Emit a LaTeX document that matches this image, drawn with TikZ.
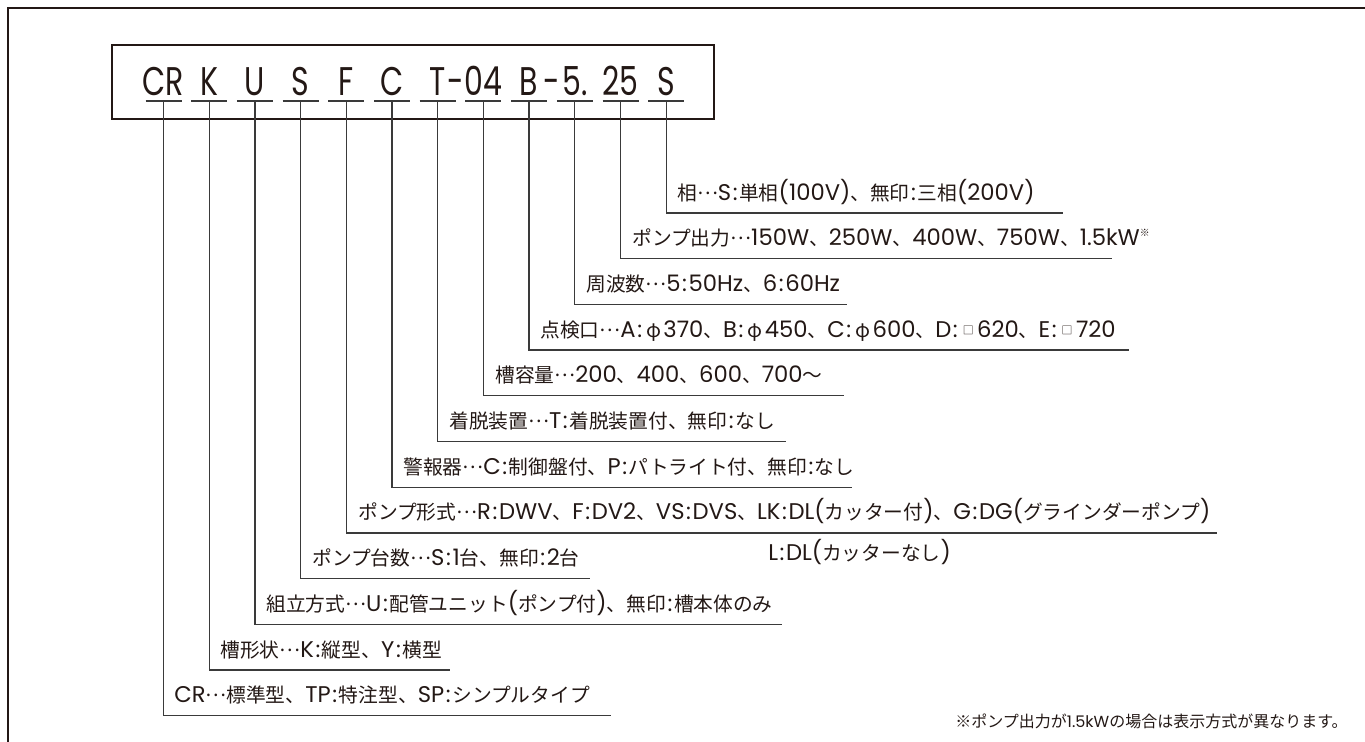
\documentclass[tikz,border=0pt]{standalone}
\usepackage{fontspec}
\usepackage{graphicx}
\usetikzlibrary{calc}
\setmainfont{Noto Sans CJK JP}
\newfontfamily\codefont{Poppins}[FakeStretch=0.75]
\newfontfamily\latinfont{Poppins}[Scale=1.15]
\newfontfamily\notefont{Poppins}
\definecolor{ink}{HTML}{231815}
\definecolor{rule}{HTML}{3A3A3A}
\newcommand{\lA}[1]{{\latinfont #1}}
\newcommand{\lN}[1]{{\latinfont #1}}
\newcommand{\cl}{{\latinfont\kern1.2pt:\kern1.2pt}}
\newcommand{\tdots}{\raisebox{0.3em}{…}}
\newcommand{\phii}{\kern0.12em φ\kern0.12em}
\newcommand{\smsq}{\makebox[0.9em]{\raisebox{0.12em}{\scalebox{0.55}{□}}}}
\newcommand{\kome}{\raisebox{0.45em}{\scalebox{0.5}{※}}}
\begin{document}
\begin{tikzpicture}[x=0.75pt,y=-0.75pt,
  frameline/.style={draw=ink,line width=2pt},
  codebox/.style={draw=ink,line width=2.2pt,minimum width=451.5pt,minimum height=55.5pt,inner sep=0pt},
  codetxt/.style={anchor=base,inner sep=0pt,text=ink,font=\codefont\fontsize{30}{30}\selectfont},
  uline/.style={draw=rule,line width=1pt},
  conn/.style={draw=rule,line width=0.95pt},
  lbl/.style={anchor=base west,inner sep=0pt,text=ink,font=\fontsize{14.8}{17}\selectfont},
  note/.style={anchor=base east,inner sep=0pt,text=ink,font=\fontsize{12}{14}\selectfont}]
\useasboundingbox (0,0) rectangle (1365,742);
% outer frame (open at right and bottom)
\draw[frameline] (8,745) -- (8,8) -- (1368,8);
% code box
\node[codebox] (box) at (413,82) {};
% code tokens
\foreach \i/\t in {1/CR,2/K,3/U,4/S,5/F,6/C,7/T\rlap{\kern1pt-},8/04,9/B\rlap{\kern4pt-},10/5.,11/25,12/S}{
  \pgfmathsetmacro{\xx}{163.5+45.7*(\i-1)}
  \node[codetxt] (c\i) at (\xx,96) {\t};
  \coordinate (u\i) at (\xx,101);
  \draw[uline] ($(u\i)+(-18,0)$) -- ($(u\i)+(18,0)$);
}
% connector ends
\foreach \i/\e in {1/611,2/450,3/782,4/590,5/1217,6/852,7/786,8/844,9/1129,10/847,11/1112,12/1063}{
  \pgfmathsetmacro{\yy}{213+45.7*(12-\i)}
  \coordinate (e\i) at (\e,\yy);
  \draw[conn] (u\i) |- (e\i);
}
% labels
\node[lbl] (l12) at (677,200) {相\tdots\lA{S}\cl 単相\lN{(100}\lA{V)}、無印\cl 三相\lN{(200}\lA{V)}};
\node[lbl] (l11) at (632,245.7) {ポンプ出力\tdots\lN{150}\lA{W}、\lN{250}\lA{W}、\lN{400}\lA{W}、\lN{750}\lA{W}、\lN{1.5}\lA{kW}\kome};
\node[lbl] (l10) at (586,291.4) {周波数\tdots\lN{5}\cl\lN{50}\lA{Hz}、\lN{6}\cl\lN{60}\lA{Hz}};
\node[lbl] (l9) at (540,337.1) {点検口\tdots\lA{A}\cl\phii\lN{370}、\lA{B}\cl\phii\lN{450}、\lA{C}\cl\phii\lN{600}、\lA{D}\cl\smsq\lN{620}、\lA{E}\cl\smsq\lN{720}};
\node[lbl] (l8) at (495,382.8) {槽容量\tdots\lN{200}、\lN{400}、\lN{600}、\lN{700}～};
\node[lbl] (l7) at (449,428.5) {着脱装置\tdots\lA{T}\cl 着脱装置付、無印\cl なし};
\node[lbl] (l6) at (403,474.2) {警報器\tdots\lA{C}\cl 制御盤付、\lA{P}\cl パトライト付、無印\cl なし};
\node[lbl] (l5) at (358,519.9) {ポンプ形式\tdots\lA{R}\cl\lA{DWV}、\lA{F}\cl\lA{DV}\lN{2}、\lA{VS}\cl\lA{DVS}、\lA{LK}\cl\lA{DL(}カッター付\lN{)}、\lA{G}\cl\lA{DG(}グラインダーポンプ\lN{)}};
\node[lbl] (l5b) at (768,560) {\lA{L}\cl\lA{DL(}カッターなし\lN{)}};
\node[lbl] (l4) at (312,565.6) {ポンプ台数\tdots\lA{S}\cl\lN{1}台、無印\cl\lN{2}台};
\node[lbl] (l3) at (266,611.3) {組立方式\tdots\lA{U}\cl 配管ユニット\lN{(}ポンプ付\lN{)}、無印\cl 槽本体のみ};
\node[lbl] (l2) at (220,657) {槽形状\tdots\lA{K}\cl 縦型、\lA{Y}\cl 横型};
\node[lbl] (l1) at (174,702.7) {\lA{CR}\tdots 標準型、\lA{TP}\cl 特注型、\lA{SP}\cl シンプルタイプ};
\node[note] (fn) at (1348,727) {※ポンプ出力が{\notefont 1.5kW}の場合は表示方式が異なります。};
\end{tikzpicture}
\end{document}
